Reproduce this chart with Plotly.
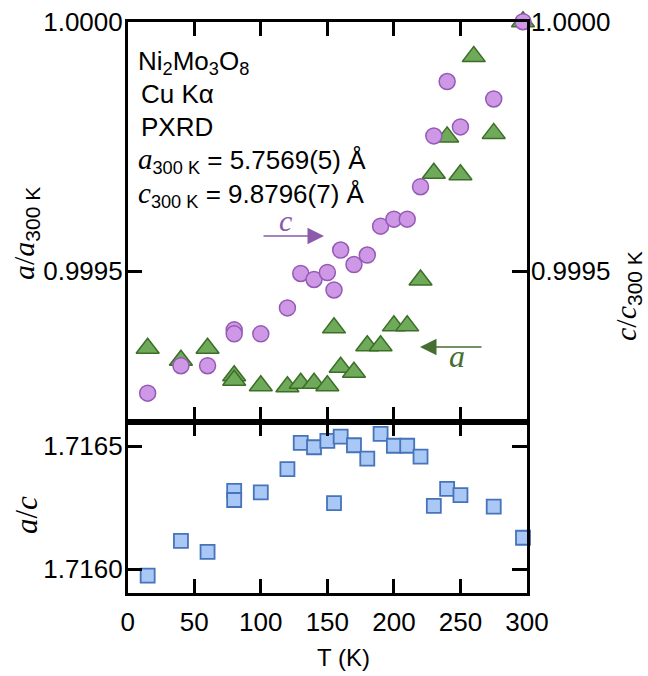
import plotly.graph_objects as go

# ---------------- data ----------------
T_c = [15, 40, 60, 80, 80, 100, 120, 130, 140, 150, 155, 160, 170, 180, 190, 200, 210, 220, 230, 240, 250, 275, 297]
c_rel = [0.999255, 0.99931, 0.99931, 0.999382, 0.999374, 0.999374, 0.999426, 0.999495, 0.999483, 0.999497,
         0.999462, 0.999542, 0.999513, 0.999532, 0.99959, 0.999604, 0.999604, 0.999669, 0.999771, 0.99988,
         0.999789, 0.999845, 1.0000]

T_a = [15, 40, 60, 80, 80, 100, 120, 130, 140, 150, 155, 160, 170, 180, 190, 200, 210, 220, 230, 240, 250, 260, 275, 297]
a_rel = [0.999345, 0.999321, 0.999345, 0.99929, 0.999281, 0.99927, 0.999268, 0.999275, 0.999275, 0.99927,
         0.999386, 0.999307, 0.999297, 0.99935, 0.99935, 0.99939, 0.99939, 0.999482, 0.999696, 0.999769,
         0.999693, 0.99993, 0.999776, 1.0000]

T_r = [15, 40, 60, 80, 80, 100, 120, 130, 140, 150, 155, 160, 170, 180, 190, 200, 210, 220, 230, 240, 250, 275, 297]
ratio = [1.715974, 1.716115, 1.716071, 1.716318, 1.716281, 1.716312, 1.716406, 1.716513, 1.716495, 1.716521,
         1.716268, 1.716538, 1.716503, 1.716449, 1.716549, 1.716501, 1.716501, 1.716457, 1.716257, 1.716326,
         1.716301, 1.716254, 1.716128]

x_ticks = [0, 50, 100, 150, 200, 250, 300]
top_y_ticks = [0.9995, 1.0000]
bot_y_ticks = [1.7160, 1.7165]

# ---------------- layout constants ----------------
W, H = 648, 676
def px(x):
    return x / W
def py(y):
    return 1 - y / H

SANS = "Liberation Sans, Arial, sans-serif"
SERIF = "Liberation Serif, Times New Roman, serif"

x_dom = [px(127.7), px(527)]
top_dom = [py(421.7), py(21.7)]
bot_dom = [py(593.3), py(421.7)]

fig = go.Figure()

fig.add_trace(go.Scatter(
    x=T_a, y=a_rel, mode="markers", xaxis="x2", yaxis="y2", cliponaxis=False,
    marker=dict(symbol="triangle-up", size=20, color="#6eaa5a",
                line=dict(color="#3c6e28", width=1.5)),
    showlegend=False))

fig.add_trace(go.Scatter(
    x=T_c, y=c_rel, mode="markers", xaxis="x2", yaxis="y3", cliponaxis=False,
    marker=dict(symbol="circle", size=16, color="#cf98e6",
                line=dict(color="#945ab4", width=1.5)),
    showlegend=False))

fig.add_trace(go.Scatter(
    x=T_r, y=ratio, mode="markers", xaxis="x", yaxis="y", cliponaxis=False,
    marker=dict(symbol="square", size=14, color="#aac8f5",
                line=dict(color="#4673b9", width=1.8)),
    showlegend=False))

axis_common = dict(showline=True, linecolor="black", linewidth=2.5, ticks="inside",
                   ticklen=15, tickwidth=2.5, tickcolor="black", zeroline=False,
                   showgrid=False, automargin=False,
                   tickfont=dict(family=SANS, size=26, color="black"))

top_range = [1.0 - (421.7 - 21.7) / 249.3 * 0.0005, 1.0]
bot_range = [1.7160 - (593.3 - 569.3) / 123.3 * 0.0005, 1.7165 + (446 - 421.7) / 123.3 * 0.0005]

fig.update_layout(
    width=W, height=H, margin=dict(l=0, r=0, t=0, b=0, autoexpand=False),
    paper_bgcolor="white", plot_bgcolor="white",
    xaxis=dict(domain=x_dom, anchor="y", range=[0, 300], tickvals=x_ticks,
               mirror="ticks", ticklabelstandoff=4, **axis_common),
    yaxis=dict(domain=bot_dom, anchor="x", range=bot_range, tickvals=bot_y_ticks,
               tickformat=".4f", mirror="ticks", ticklabelstandoff=-3, **axis_common),
    xaxis2=dict(domain=x_dom, anchor="y2", range=[0, 300], tickvals=x_ticks[1:-1],
                showticklabels=False, mirror="ticks", **axis_common),
    yaxis2=dict(domain=top_dom, anchor="x2", range=top_range, tickvals=top_y_ticks,
                tickformat=".4f", mirror=True, ticklabelstandoff=-3, **axis_common),
    yaxis3=dict(domain=top_dom, anchor="x2", overlaying="y2", side="right",
                range=top_range, tickvals=top_y_ticks, tickformat=".4f",
                ticklabelstandoff=-4, **axis_common),
)

ann = []
def txt(x, y, text, size=26, xanchor="left", color="black", family=SANS, angle=0):
    ann.append(dict(x=px(x), y=py(y), xref="paper", yref="paper", text=text,
                    showarrow=False, xanchor=xanchor, yanchor="middle", textangle=angle,
                    font=dict(family=family, size=size, color=color)))

txt(136, 62, "Ni<sub>2</sub>Mo<sub>3</sub>O<sub>8</sub>")
txt(139, 94, "Cu Kα")
txt(139, 127, "PXRD")
txt(136, 160, f"<span style='font-family:{SERIF}; font-size:29px'><i>a</i></span><sub>300 K</sub> = 5.7569(5) Å")
txt(136, 195, f"<span style='font-family:{SERIF}; font-size:29px'><i>c</i></span><sub>300 K</sub> = 9.8796(7) Å")

# axis titles
sub_sans = f"<sub><span style='font-family:{SANS}'>300 K</span></sub>"
txt(25, 234, "<i>a</i>/<i>a</i>" + sub_sans, size=30, xanchor="center", family=SERIF, angle=-90)
txt(627, 296, "<i>c</i>/<i>c</i>" + sub_sans, size=30, xanchor="center", family=SERIF, angle=-90)
txt(26, 515, "<i>a</i>/<i>c</i>", size=31, xanchor="center", family=SERIF, angle=-90)
txt(343, 657, "T (K)", size=24, xanchor="center")

# arrow labels
txt(285, 221, "<i>c</i>", size=30, xanchor="center", family=SERIF, color="#8c5aaa")
txt(457, 356, "<i>a</i>", size=32, xanchor="center", family=SERIF, color="#466e32")

# arrows (tail offsets in pixels)
ann.append(dict(x=px(324), y=py(236), ax=262 - 324, ay=0, xref="paper", yref="paper",
                axref="pixel", ayref="pixel", showarrow=True, arrowhead=2, arrowsize=2.2,
                arrowwidth=1.5, arrowcolor="#8c5aaa", text=""))
ann.append(dict(x=px(420), y=py(347), ax=483 - 420, ay=0, xref="paper", yref="paper",
                axref="pixel", ayref="pixel", showarrow=True, arrowhead=2, arrowsize=2.2,
                arrowwidth=1.5, arrowcolor="#466e32", text=""))

fig.update_layout(annotations=ann)

fig.write_html("out.html")
